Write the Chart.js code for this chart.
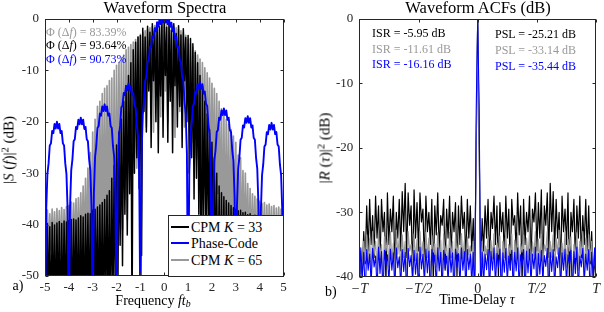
<!DOCTYPE html>
<html>
<head>
<meta charset="utf-8">
<script src="https://cdn.jsdelivr.net/npm/chart.js@4.4.1/dist/chart.umd.min.js"></script>
<style>
	body { margin: 0; background: #fff; width: 604px; height: 312px; position: relative; overflow: hidden; font-family: "Liberation Serif", serif; color: #000; }
	canvas { position: absolute; top: 0; }
	.t { position: absolute; white-space: nowrap; line-height: 1; }
	.c { transform: translateX(-50%); }
	.yl { transform: translate(-50%, -50%) rotate(-90deg); }
	sup { font-size: 70%; vertical-align: 0; position: relative; top: -0.45em; line-height: 0; }
	sub { font-size: 70%; vertical-align: 0; position: relative; top: 0.25em; line-height: 0; }
	#legend { position: absolute; left: 168px; top: 215px; width: 116px; height: 62px; box-sizing: border-box; border: 1px solid #262626; background: #fff; }
	#legend .smp { position: absolute; left: 2px; width: 18px; height: 2px; }
	#legend .lab { position: absolute; left: 22px; white-space: nowrap; line-height: 1; font-size: 14px; }
</style>
</head>
<body>
<canvas id="specCanvas" width="302" height="312" style="left:0"></canvas>
<canvas id="acfCanvas" width="302" height="312" style="left:302px"></canvas>

<div class="t c" style="left:165px;top:-0.5px;font-size:16.5px">Waveform Spectra</div>
<div class="t c" style="left:478px;top:-0.5px;font-size:16.5px">Waveform ACFs (dB)</div>

<div class="t yl" style="left:9px;top:150px;font-size:15px">|<i>S</i> (<i>f</i>)|<sup>2</sup> (dB)</div>
<div class="t yl" style="left:325px;top:148px;font-size:15px">|<i>R</i> (<i>τ</i>)|<sup>2</sup> (dB)</div>
<div class="t c" style="left:153px;top:293.8px;font-size:14px">Frequency <i>ft</i><sub><i>b</i></sub></div>
<div class="t c" style="left:477px;top:293.3px;font-size:14px">Time-Delay <i>τ</i></div>
<div class="t" style="left:12.5px;top:279.3px;font-size:14px">a)</div>
<div class="t" style="left:325px;top:285.3px;font-size:14px">b)</div>

<div class="t" style="left:46px;top:25.5px;font-size:12px;color:#999">Φ (Δ<i>f</i>) = 83.39%</div>
<div class="t" style="left:46px;top:39px;font-size:12px;color:#000">Φ (Δ<i>f</i>) = 93.64%</div>
<div class="t" style="left:46px;top:53px;font-size:12px;color:#0000ff">Φ (Δ<i>f</i>) = 90.73%</div>

<div class="t" style="left:372px;top:26.5px;font-size:12px;color:#000">ISR = -5.95 dB</div>
<div class="t" style="left:372px;top:42.5px;font-size:12px;color:#999">ISR = -11.61 dB</div>
<div class="t" style="left:372px;top:58px;font-size:12px;color:#0000ff">ISR = -16.16 dB</div>
<div class="t" style="left:495px;top:27.5px;font-size:12px;color:#000">PSL = -25.21 dB</div>
<div class="t" style="left:495px;top:44px;font-size:12px;color:#999">PSL = -33.14 dB</div>
<div class="t" style="left:495px;top:59.5px;font-size:12px;color:#0000ff">PSL = -35.44 dB</div>

<div id="legend"></div>

<script>
// spectra sampled every 0.05 from -5 to 5 (201 pts), ACFs every T/80 from -T to T (161 pts)
var FREQ_START = -5, FREQ_STEP = 0.05;
var TAU_START = -1, TAU_STEP = 0.0125;

var specCpm33 = [
	-40.2,-58,-39.8,-56,-40.4,-60,-39.6,-57,-40.1,-59,-39.7,-56,-39.4,-60,-39.8,-58,-39.3,-57,-39.5,-59,
	-39.2,-57,-39.0,-60,-38.9,-56,-39.1,-58,-38.7,-59,-38.3,-57,-38.5,-60,-38.0,-56,-37.8,-58,-37.9,-57,
	-37.2,-58,-37.0,-56,-36.6,-60,-36.2,-57,-35.7,-59,-35.1,-56,-34.3,-58,-33.4,-60,-31.0,-55,-28.5,-57,
	-24.5,-58,-22,-44,-19.5,-48,-16,-38,-13,-42,-11,-34,-8.5,-60,-6,-30,-4.5,-27,-3.5,-33,
	-3.2,-46,-1.8,-18,-3.5,-22,-1.4,-14,-2.6,-25,-0.9,-12,-2.1,-20,-0.6,-26,-1.5,-15,-0.3,-23,
	-0.5,-11,-1.6,-24,-0.4,-16,-2.2,-26,-0.9,-13,-2.8,-21,-1.3,-17,-3.1,-25,-1.9,-12,-3.6,-20,
	-3.2,-30,-3.8,-27,-4.8,-35,-6.5,-31,-8.5,-38,-11,-60,-13,-40,-16,-44,-18.5,-42,-21.5,-60,
	-24,-48,-27,-52,-30,-57,-32.5,-60,-33.8,-56,-34.6,-59,-35.3,-57,-35.8,-60,-36.3,-56,-36.7,-58,
	-37.0,-57,-37.3,-60,-37.2,-56,-37.7,-59,-37.6,-57,-38.1,-60,-37.9,-56,-38.4,-58,-38.2,-57,-38.7,-59,
	-38.8,-58,-38.6,-56,-39.1,-60,-38.9,-57,-39.4,-59,-39.2,-56,-39.7,-58,-39.5,-60,-39.9,-57,-39.7,-58,
	-40.0
];
var specPhase = [
	-60,-37.3,-30.2,-28.1,-24.6,-24.2,-21.8,-22.2,-20.4,-21.3,-20.0,-21.3,-20.4,-22.2,-21.8,-24.2,-24.6,-28.1,-30.2,-37.3,
	-60,-36.5,-29.4,-27.3,-23.8,-23.4,-21.0,-21.4,-19.6,-20.5,-19.2,-20.5,-19.6,-21.4,-21.0,-23.4,-23.8,-27.3,-29.4,-36.5,
	-60,-33.9,-26.8,-24.7,-21.2,-20.8,-18.4,-18.8,-17.0,-17.9,-16.6,-17.9,-17.0,-18.8,-18.4,-20.8,-21.2,-24.7,-26.8,-33.9,
	-60,-29.9,-22.8,-20.7,-17.2,-16.8,-14.4,-14.8,-13.0,-13.9,-12.6,-13.9,-13.0,-14.8,-14.4,-16.8,-17.2,-20.7,-22.8,-29.9,
	-60,-26.1,-18.6,-16.1,-12.0,-11.3,-8.4,-8.0,-5.4,-5.5,-3.3,-3.7,-1.8,-2.4,-0.7,-1.5,-0.1,-1.0,-0.05,-0.7,
	-0.05,-0.7,-0.1,-1.0,-0.1,-1.5,-0.7,-2.4,-1.8,-3.7,-3.3,-5.5,-5.4,-8.0,-8.4,-11.3,-12.0,-16.1,-18.6,-26.1,
	-60,-29.6,-22.5,-20.4,-16.9,-16.5,-14.1,-14.5,-12.7,-13.6,-12.3,-13.6,-12.7,-14.5,-14.1,-16.5,-16.9,-20.4,-22.5,-29.6,
	-60,-34.7,-27.6,-25.5,-22.0,-21.6,-19.2,-19.6,-17.8,-18.7,-17.4,-18.7,-17.8,-19.6,-19.2,-21.6,-22.0,-25.5,-27.6,-34.7,
	-60,-36.2,-29.1,-27.0,-23.5,-23.1,-20.7,-21.1,-19.3,-20.2,-18.9,-20.2,-19.3,-21.1,-20.7,-23.1,-23.5,-27.0,-29.1,-36.2,
	-60,-37.5,-30.4,-28.3,-24.8,-24.4,-22.0,-22.4,-20.6,-21.5,-20.2,-21.5,-20.6,-22.4,-22.0,-24.4,-24.8,-28.3,-30.4,-37.5,
	-60
];
var specCpm65 = [
	-37.6,-46,-37.2,-47,-37.9,-45,-37.0,-46,-37.5,-47,-36.9,-45,-37.3,-46,-36.7,-47,-37.1,-45,-36.5,-46,
	-36.3,-46,-35.6,-47,-35.8,-45,-35.0,-46,-34.8,-47,-33.8,-45,-32.5,-46,-31,-47,-29,-45,-26,-46,
	-22,-46,-19.5,-45,-17,-47,-16,-46,-14.5,-45,-13.5,-47,-13,-46,-12,-45,-11.5,-47,-10,-46,
	-9,-42,-8.5,-38,-7.5,-41,-7,-35,-6,-39,-5.5,-30,-5,-33,-4.5,-26,-4,-29,-3.5,-24,
	-3,-18,-2.6,-13,-2.3,-21,-2,-11,-1.7,-16,-1.5,-22,-1.3,-10,-1.1,-15,-0.9,-19,-0.7,-12,
	-0.6,-14,-0.8,-20,-1.0,-11,-1.2,-17,-1.4,-23,-1.7,-12,-2.0,-18,-2.3,-14,-2.7,-21,-3.2,-16,
	-4,-20,-4.8,-24,-5.5,-19,-6.2,-27,-7,-23,-7.8,-30,-8.5,-26,-9.5,-33,-10.5,-28,-11.5,-35,
	-12.5,-32,-13.5,-38,-14.5,-34,-16,-41,-17.5,-45,-18.5,-46,-19.5,-44,-20.5,-46,-21.5,-45,-22.8,-46,
	-24,-46,-26.5,-45,-27,-47,-29.5,-46,-30,-45,-32,-47,-33,-46,-34,-45,-34.5,-47,-35,-46,
	-35.5,-46,-35.9,-45,-35.7,-47,-36.2,-46,-36.0,-45,-36.5,-47,-36.3,-46,-36.8,-45,-36.6,-47,-37.0,-46,
	-37.3
];

var acfCpm33 = [
	-42,-37,-40,-33,-38,-29,-36,-28,-35,-30.5,
	-37,-27.5,-34,-29,-38,-28,-33,-30,-41,-27,
	-35,-29.5,-33,-27.5,-39,-30,-34,-28,-36,-26.8,
	-33,-25.5,-37,-27,-32,-29,-40,-26.5,-34,-28.5,
	-36,-27,-31.5,-29.5,-38,-27.5,-33,-30,-35,-28,
	-41,-29,-33.5,-27,-36,-30.5,-32,-28,-39,-29.5,
	-34,-27.5,-37,-30,-33,-28.5,-40,-29,-35,-27.5,
	-32.5,-30,-38,-28,-34,-29,-36,-31,-39,-20,
	0,
	-20,-39,-31,-36,-29,-34,-28,-38,-30,-32.5,
	-27.5,-35,-29,-40,-28.5,-33,-30,-37,-27.5,-34,
	-29.5,-39,-28,-32,-30.5,-36,-27,-33.5,-29,-41,
	-28,-35,-30,-33,-27.5,-38,-29.5,-31.5,-27,-36,
	-28.5,-34,-26.5,-40,-29,-32,-27,-37,-25.5,-33,
	-26.8,-36,-28,-34,-30,-39,-27.5,-33,-29.5,-35,
	-27,-41,-30,-33,-28,-38,-29,-34,-27.5,-37,
	-30.5,-35,-28,-36,-29,-38,-33,-40,-37,-42
];
var acfPhase = [
	-42,-35.5,-40,-36.2,-43,-35.8,-39,-36.5,-41,-35.6,
	-38.5,-36.8,-42,-35.4,-39.5,-36.1,-43,-35.9,-38.2,-36.6,
	-41,-35.7,-39,-36.3,-42,-35.5,-38.6,-36.9,-41.5,-35.8,
	-39.2,-36.2,-43,-35.6,-38.4,-36.7,-40.5,-35.9,-39.6,-36.4,
	-42.5,-35.4,-38.8,-36.5,-41,-35.7,-39.4,-36,-43,-35.8,
	-38.3,-36.6,-41.5,-35.5,-39.1,-36.2,-42,-35.9,-38.7,-36.8,
	-40.8,-35.6,-39.3,-36.3,-43,-35.7,-38.5,-36.4,-41.2,-35.5,
	-39,-36.1,-42,-35.8,-38.9,-36.5,-41,-36.2,-44,-14,
	0,
	-14,-44,-36.2,-41,-36.5,-38.9,-35.8,-42,-36.1,-39,
	-35.5,-41.2,-36.4,-38.5,-35.7,-43,-36.3,-39.3,-35.6,-40.8,
	-36.8,-38.7,-35.9,-42,-36.2,-39.1,-35.5,-41.5,-36.6,-38.3,
	-35.8,-43,-36,-39.4,-35.7,-41,-36.5,-38.8,-35.4,-42.5,
	-36.4,-39.6,-35.9,-40.5,-36.7,-38.4,-35.6,-43,-36.2,-39.2,
	-35.8,-41.5,-36.9,-38.6,-35.5,-42,-36.3,-39,-35.7,-41,
	-36.6,-38.2,-35.9,-43,-36.1,-39.5,-35.4,-42,-36.8,-38.5,
	-35.6,-41,-36.5,-39,-35.8,-43,-36.2,-40,-35.5,-42
];
var acfCpm65 = [
	-41,-36,-39,-34.5,-37.5,-33.5,-38,-34,-40,-33,
	-36.5,-34.5,-39,-33.2,-37,-35,-41,-33.8,-36,-34.2,
	-38.5,-33,-37.5,-34.8,-40,-32.8,-36.5,-34,-39,-33.5,
	-37,-34.5,-41,-33,-36,-35,-38.5,-33.4,-37.5,-34.2,
	-40,-33,-36.8,-34.6,-39.5,-33.1,-37,-34,-41,-33.6,
	-36.2,-34.9,-38.5,-33.2,-37.5,-34.3,-40,-33.4,-36.4,-35,
	-39,-33.1,-37,-34.5,-41,-33.7,-36.5,-34.8,-38.8,-33.3,
	-37.2,-34.4,-40,-33.8,-36.6,-35.2,-39,-34.5,-42,-19,
	0,
	-19,-42,-34.5,-39,-35.2,-36.6,-33.8,-40,-34.4,-37.2,
	-33.3,-38.8,-34.8,-36.5,-33.7,-41,-34.5,-37,-33.1,-39,
	-35,-36.4,-33.4,-40,-34.3,-37.5,-33.2,-38.5,-34.9,-36.2,
	-33.6,-41,-34,-37,-33.1,-39.5,-34.6,-36.8,-33,-40,
	-34.2,-37.5,-33.4,-38.5,-35,-36,-33,-41,-34.5,-37,
	-33.5,-39,-34,-36.5,-32.8,-40,-34.8,-37.5,-33,-38.5,
	-34.2,-36,-33.8,-41,-35,-37,-33.2,-39,-34.5,-36.5,
	-33,-40,-34,-38,-33.5,-37.5,-34.5,-39,-36,-41
];

var freqTicks = [-5,-4,-3,-2,-1,0,1,2,3,4,5];
var specDbTicks = [-50,-40,-30,-20,-10,0];
var tauTicks = [-1,-0.5,0,0.5,1];
var tauTickLabels = ['\u2212T','\u2212T/2','0','T/2','T'];
var acfDbTicks = [-40,-30,-20,-10,0];

var seriesNames = ['CPM <i>K</i> = 33','Phase-Code','CPM <i>K</i> = 65'];
var colCpm33 = '#000000', colPhase = '#0000ff', colCpm65 = '#999999';

var FONT = '"Liberation Serif", serif';
var AXCOL = '#262626';

function toXY(vals, start, step) {
	return vals.map(function(v, i) { return { x: start + i * step, y: v }; });
}

function line(label, vals, start, step, color, width) {
	return {
		label: label, data: toXY(vals, start, step), borderColor: color, borderWidth: width,
		pointRadius: 0, tension: 0, fill: false, borderJoinStyle: 'round'
	};
}

// MATLAB-like box with inward ticks on all four sides
var boxPlugin = {
	id: 'box',
	afterDatasetsDraw: function(chart) {
		var c = chart.ctx, a = chart.chartArea, sx = chart.scales.x, sy = chart.scales.y;
		var L = Math.round(a.left) + 0.5, R = Math.round(a.right) - 0.5;
		var T = Math.round(a.top) + 0.5, B = Math.round(a.bottom) - 0.5;
		c.save();
		c.strokeStyle = AXCOL;
		c.lineWidth = 1;
		c.beginPath();
		sx.ticks.forEach(function(t) {
			var px = Math.round(sx.getPixelForValue(t.value)) + 0.5;
			c.moveTo(px, B); c.lineTo(px, B - 3);
			c.moveTo(px, T); c.lineTo(px, T + 3);
		});
		sy.ticks.forEach(function(t) {
			var py = Math.round(sy.getPixelForValue(t.value)) + 0.5;
			c.moveTo(L, py); c.lineTo(L + 3, py);
			c.moveTo(R, py); c.lineTo(R - 3, py);
		});
		c.stroke();
		c.strokeRect(L, T, R - L, B - T);
		c.restore();
	}
};

function scales(xMin, xMax, xTicks, xFit, yMin, yMax, yTicks, yFit, xFont, xLabels) {
	return {
		x: {
			type: 'linear', min: xMin, max: xMax,
			afterBuildTicks: function(s) { s.ticks = xTicks.map(function(v) { return { value: v }; }); },
			afterFit: function(s) { s.height = xFit; },
			grid: { display: false, drawTicks: false }, border: { display: false },
			ticks: {
				autoSkip: false, maxRotation: 0, padding: 4, color: AXCOL, font: xFont,
				callback: xLabels ? function(v, i) { return xLabels[i]; } : undefined
			}
		},
		y: {
			type: 'linear', min: yMin, max: yMax,
			afterBuildTicks: function(s) { s.ticks = yTicks.map(function(v) { return { value: v }; }); },
			afterFit: function(s) { s.width = yFit; },
			grid: { display: false, drawTicks: false }, border: { display: false },
			ticks: { padding: 6, color: AXCOL, font: { family: FONT, size: 13 } }
		}
	};
}

var baseOpts = {
	responsive: false, animation: false, events: [],
	plugins: { legend: { display: false }, tooltip: { enabled: false } }
};

// left: spectra (blue on top, then K=33, K=65 at the back)
new Chart(document.getElementById('specCanvas'), {
	type: 'line',
	data: { datasets: [
		line('Phase-Code', specPhase, FREQ_START, FREQ_STEP, colPhase, 1.9),
		line('CPM K = 33', specCpm33, FREQ_START, FREQ_STEP, colCpm33, 1.5),
		line('CPM K = 65', specCpm65, FREQ_START, FREQ_STEP, colCpm65, 1.7)
	]},
	options: Object.assign({}, baseOpts, {
		layout: { padding: { left: 0, right: 18.5, top: 19, bottom: 0 } },
		scales: scales(-5, 5, freqTicks, 36, -50, 0, specDbTicks, 45, { family: FONT, size: 13 })
	}),
	plugins: [boxPlugin]
});

// right: ACFs (K=33 at the back, then K=65, blue on top)
new Chart(document.getElementById('acfCanvas'), {
	type: 'line',
	data: { datasets: [
		line('Phase-Code', acfPhase, TAU_START, TAU_STEP, colPhase, 1.1),
		line('CPM K = 65', acfCpm65, TAU_START, TAU_STEP, colCpm65, 1.2),
		line('CPM K = 33', acfCpm33, TAU_START, TAU_STEP, colCpm33, 1.2)
	]},
	options: Object.assign({}, baseOpts, {
		layout: { padding: { left: 0, right: 6.3, top: 19, bottom: 0 } },
		scales: scales(-1, 1, tauTicks, 35.3, -40, 0, acfDbTicks, 57.3, function(ctx) {
			var it = ctx.tick && ctx.tick.value !== 0;
			return { family: FONT, size: 14, style: it ? 'italic' : 'normal' };
		}, tauTickLabels)
	}),
	plugins: [boxPlugin]
});

// legend box inside the spectra axes
var legend = document.getElementById('legend');
var legendCols = [colCpm33, colPhase, colCpm65];
var rowMid = [11, 27, 44];
seriesNames.forEach(function(name, i) {
	var smp = document.createElement('div');
	smp.className = 'smp';
	smp.style.top = (rowMid[i] - 1) + 'px';
	smp.style.backgroundColor = legendCols[i];
	legend.appendChild(smp);
	var lab = document.createElement('div');
	lab.className = 'lab';
	lab.style.top = (rowMid[i] - 6.5) + 'px';
	lab.innerHTML = name;
	legend.appendChild(lab);
});
</script>
</body>
</html>
